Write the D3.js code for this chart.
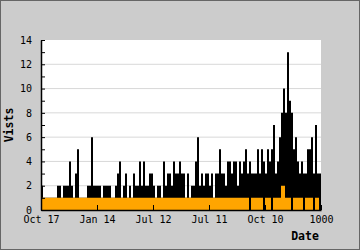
<!DOCTYPE html>
<html lang="en">
<head>
    <meta charset="UTF-8">
    <script src="https://cdn.jsdelivr.net/npm/d3@7"></script>
    <title>Vists by date</title>
    <style>
        body { margin: 0; background: #ccc; }
        text { font-family: 'DejaVu Sans Mono', monospace; }
    </style>
</head>
<body>
<div class="fig"></div>

<script>
    // visits per column (black) and orange baseline series
    const visits = [2,1,1,1,1,1,1,1,2,2, 1,2,2,2,4,2,1,3,5,1,
                    1,1,1,2,2,6,2,2,2,2, 1,2,2,2,2,1,1,2,3,4,
                    1,2,3,1,2,1,3,2,2,4, 2,4,2,2,3,3,2,1,2,2,
                    1,4,2,3,3,2,4,3,3,4, 3,3,1,3,1,2,2,4,6,2,
                    3,2,3,3,2,3,1,3,3,5, 3,3,2,4,4,3,4,4,2,4,
                    3,4,5,3,4,3,3,3,5,3, 5,4,3,5,4,5,7,3,4,6,
                    8,10,8,13,9,8,5,6,4,3, 4,3,3,5,5,6,3,7,3,3];
    const orange = [1,1,1,1,1,1,1,1,1,1, 1,1,1,1,1,1,1,1,1,1,
                    1,1,1,1,1,1,1,1,1,1, 1,1,1,1,1,1,1,1,1,1,
                    1,1,1,1,1,1,1,1,1,1, 1,1,1,1,1,1,1,1,1,1,
                    1,1,1,1,1,1,1,1,1,1, 1,1,1,1,1,1,1,1,1,1,
                    1,1,1,1,1,1,1,1,1,1, 1,1,1,1,1,1,1,1,1,1,
                    1,1,1,1,0,1,1,1,1,1, 1,0,1,1,1,0,1,1,1,1,
                    2,2,1,1,1,0,1,1,1,1, 1,0,1,1,1,1,0,1,1,0];
    const tickIndex = [0, 28, 56, 84, 112, 140];
    const tickLabels = ["Oct 17", "Jan 14", "Jul 12", "Jul 11", "Oct 10", "1000"];

    const width = 360, height = 250;
    const margin = {left: 41, right: 39, top: 40, bottom: 40};

    const svg = d3.select(".fig").append("svg")
        .attr("width", width)
        .attr("height", height);

    svg.append("rect")
        .attr("x", 0.5).attr("y", 0.5)
        .attr("width", width - 1).attr("height", height - 1)
        .attr("fill", "#ccc")
        .attr("stroke", "#666");

    const x = d3.scaleLinear()
        .domain([0, visits.length])
        .range([margin.left, width - margin.right]);
    const y = d3.scaleLinear()
        .domain([0, 14])
        .range([height - margin.bottom, margin.top]);

    svg.append("rect")
        .attr("x", x(0)).attr("y", y(14))
        .attr("width", x(visits.length) - x(0))
        .attr("height", y(0) - y(14))
        .attr("fill", "white");

    // gridlines
    svg.append("g")
        .selectAll("line")
        .data(d3.range(2, 14, 2))
        .enter()
        .append("line")
        .attr("x1", x(0)).attr("x2", x(visits.length))
        .attr("y1", d => y(d)).attr("y2", d => y(d))
        .attr("stroke", "#d8d8d8");

    // step areas, repeat last value so the final column gets its width
    const stepArea = arr => d3.area()
        .curve(d3.curveStepAfter)
        .x((d, i) => x(i))
        .y0(y(0))
        .y1(d => y(d))(arr.concat([arr[arr.length - 1]]));

    svg.append("path")
        .attr("d", stepArea(visits))
        .attr("fill", "black");

    svg.append("path")
        .attr("d", stepArea(orange))
        .attr("fill", "#ffa500");

    // y axis: ticks inward, labels on even values
    const yAxis = svg.append("g")
        .attr("transform", `translate(${x(0)},0)`)
        .call(d3.axisLeft(y)
            .tickValues(d3.range(0, 15, 2))
            .tickSizeInner(-4)
            .tickSizeOuter(0)
            .tickPadding(9));
    svg.append("g")
        .attr("transform", `translate(${x(0)},0)`)
        .call(d3.axisLeft(y)
            .tickValues(d3.range(1, 14, 2))
            .tickSizeInner(-4)
            .tickSizeOuter(0)
            .tickFormat(""))
        .select(".domain").remove();

    const xAxis = svg.append("g")
        .attr("transform", `translate(0,${y(0)})`)
        .call(d3.axisBottom(x)
            .tickValues(tickIndex)
            .tickFormat((d, i) => tickLabels[i])
            .tickSizeInner(-5)
            .tickSizeOuter(0)
            .tickPadding(6));

    [yAxis, xAxis].forEach(g => {
        g.selectAll("text")
            .attr("fill", "black")
            .style("font-family", "'DejaVu Sans Mono', monospace")
            .style("font-size", "10px");
        g.select(".domain").attr("stroke", "black").attr("stroke-width", 1.5);
        g.selectAll(".tick line").attr("stroke", "black");
    });

    svg.append("text")
        .attr("x", 305).attr("y", 240)
        .attr("text-anchor", "middle")
        .style("font-size", "11.5px")
        .style("font-weight", "bold")
        .text("Date");

    svg.append("text")
        .attr("transform", "translate(13,125) rotate(-90)")
        .attr("text-anchor", "middle")
        .style("font-size", "11.5px")
        .style("font-weight", "bold")
        .text("Vists");
</script>
</body>
</html>
